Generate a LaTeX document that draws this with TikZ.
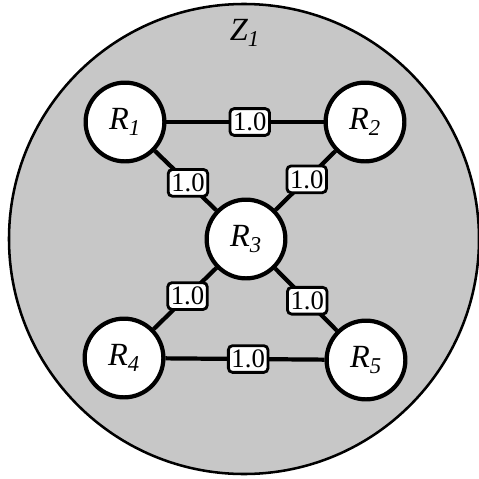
\documentclass[tikz,border=0pt]{standalone}
\usepackage{fontspec}
\setmainfont{Liberation Serif}
\begin{document}
\begin{tikzpicture}[x=0.025cm, y=-0.025cm,
  router/.style={circle, draw, line width=3pt, fill=white, minimum size=56pt, inner sep=0pt, font=\fontsize{23}{25}\selectfont\itshape},
  link/.style={line width=3pt},
  cost/.style={draw, line width=2pt, fill=white, rounded corners=3pt, inner sep=2.2pt, minimum height=19pt, font=\fontsize{19}{20}\selectfont},
  zonelabel/.style={font=\fontsize{23}{25}\selectfont\itshape}]
\useasboundingbox (0,0) rectangle (479,479);
\draw[line width=1.8pt, fill=black!22] (244,239) circle (235);
\node (zone) at (245,33) [zonelabel] {Z\textsubscript{1}};
\node (r1) at (125,122) [router] {R\textsubscript{1}};
\node (r2) at (365,122) [router] {R\textsubscript{2}};
\node (r3) at (246,239) [router] {R\textsubscript{3}};
\node (r4) at (124,358) [router] {R\textsubscript{4}};
\node (r5) at (366,360) [router] {R\textsubscript{5}};
\draw[link] (r1) -- node[cost, pos=0.53] {1.0} (r2);
\draw[link] (r1) -- node[cost, pos=0.54] {1.0} (r3);
\draw[link] (r2) -- node[cost, pos=0.48] {1.0} (r3);
\draw[link] (r3) -- node[cost, pos=0.46] {1.0} (r4);
\draw[link] (r3) -- node[cost, pos=0.52] {1.0} (r5);
\draw[link] (r4) -- node[cost, pos=0.52] {1.0} (r5);
\end{tikzpicture}
\end{document}
